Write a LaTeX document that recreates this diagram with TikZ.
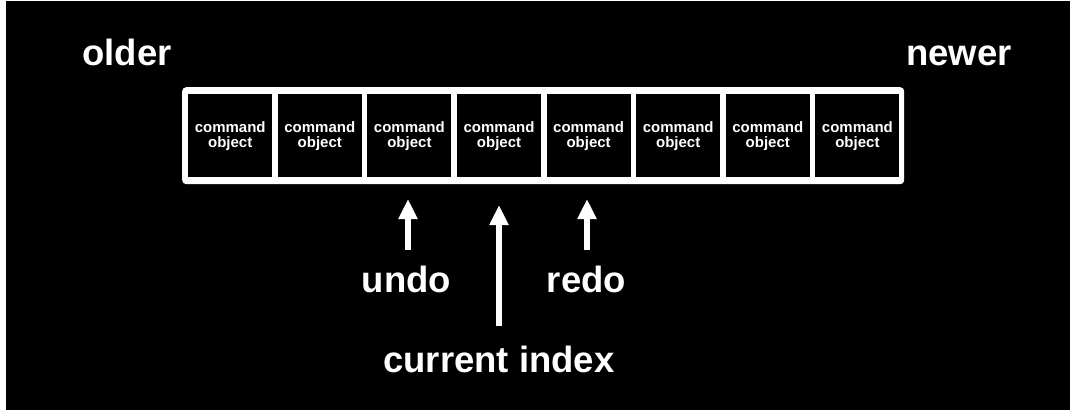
\documentclass[tikz,border=0pt]{standalone}
\usepackage{fontspec}
\setmainfont{Liberation Sans}
\usetikzlibrary{arrows.meta}
\begin{document}
\begin{tikzpicture}[x=1pt,y=-1pt,
  cellbox/.style={fill=black,draw=none,minimum width=84pt,minimum height=83pt,inner sep=0pt,anchor=north west,
    text=white,font=\fontsize{15}{16}\selectfont\bfseries,align=center},
  biglabel/.style={text=white,font=\fontsize{36.5}{40}\selectfont\bfseries,anchor=base,inner sep=0pt},
  arr/.style={draw=white,line width=6.5pt,-{Triangle[width=18pt,length=20pt]}}]
\useasboundingbox (0,0) rectangle (1070,410);
\fill[white] (0,0) rectangle (1070,410);
\fill[black] (6,1) rectangle (1070,410);
\node[fill=white,rounded corners=4pt,minimum width=722pt,minimum height=97pt,inner sep=0pt,anchor=north west] (frame) at (182,87) {};
\foreach \i in {0,...,7}{
  \node[cellbox] (b\i) at ({188+89.6*\i},94) {command\\[-1pt]object};
}
\node[biglabel] (older) at (127,65) {older};
\node[biglabel] (newer) at (959,65) {newer};
\node[biglabel] (undo) at (406.5,292) {undo};
\node[biglabel] (redo) at (586.5,292) {redo};
\node[biglabel] (cur) at (499,372) {current index};
\coordinate (u0) at (408,250); \coordinate (u1) at (408,199);
\coordinate (c0) at (499,326); \coordinate (c1) at (499,205);
\coordinate (r0) at (587,250); \coordinate (r1) at (587,199);
\draw[arr] (u0) -- (u1);
\draw[arr] (c0) -- (c1);
\draw[arr] (r0) -- (r1);
\end{tikzpicture}
\end{document}
